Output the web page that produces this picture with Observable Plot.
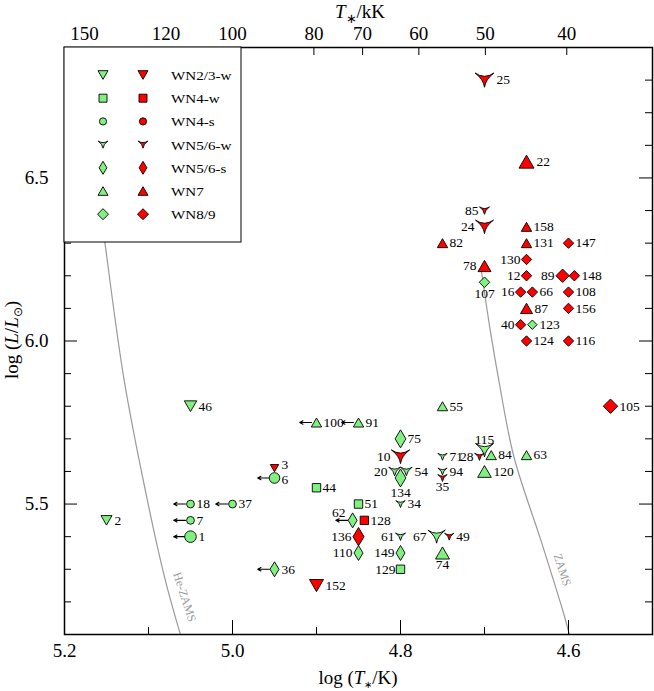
<!DOCTYPE html>
<html><head><meta charset="utf-8">
<script src="https://cdn.jsdelivr.net/npm/d3@7"></script>
<script src="https://cdn.jsdelivr.net/npm/@observablehq/plot@0.6"></script>
<style>body{margin:0;background:#fff} svg{display:block}</style>
</head><body><div id="chart"></div>
<script>
// ---------------- data ----------------
const wr = [25,22,85,24,158, 82,131,147,130,78, 12,89,148,107,16, 66,108,87,156,40,
  123,124,116,105,55, 46,100,91,75,115, 28,84,63,71,10, 3,20,54,94,120,
  6,134,35,44,18, 37,51,34,2,7, 62,128,1,136,61, 67,49,110,149,74, 36,129,152];
const logT = [4.70,4.65,4.70,4.70,4.65, 4.75,4.65,4.60,4.65,4.70, 4.65,4.607,4.593,4.70,4.657,
  4.643,4.60,4.65,4.60,4.657, 4.643,4.65,4.60,4.55,4.75, 5.05,4.90,4.85,4.80,4.70,
  4.706,4.692,4.65,4.75,4.80, 4.95,4.807,4.793,4.75,4.70, 4.95,4.80,4.75,4.90,5.05,
  5.00,4.85,4.80,5.15,5.05, 4.857,4.843,5.05,4.85,4.80, 4.757,4.742,4.85,4.80,4.75, 4.95,4.80,4.90];
const logL = [6.80,6.55,6.40,6.35,6.35, 6.30,6.30,6.30,6.25,6.23, 6.20,6.20,6.20,6.18,6.15,
  6.15,6.15,6.10,6.10,6.05, 6.05,6.00,6.00,5.80,5.80, 5.80,5.75,5.75,5.70,5.665,
  5.645,5.65,5.65,5.645,5.645, 5.61,5.60,5.60,5.60,5.60, 5.58,5.58,5.58,5.55,5.50,
  5.50,5.50,5.50,5.45,5.45, 5.45,5.45,5.40,5.40,5.40, 5.40,5.40,5.35,5.35,5.35, 5.30,5.30,5.25];
const subtype = ["WN5/6-w","WN7","WN5/6-w","WN5/6-w","WN7", "WN7","WN7","WN8/9","WN8/9","WN7",
  "WN8/9","WN8/9","WN8/9","WN8/9","WN8/9", "WN8/9","WN8/9","WN7","WN8/9","WN8/9",
  "WN8/9","WN8/9","WN8/9","WN8/9","WN7", "WN2/3-w","WN7","WN7","WN5/6-s","WN5/6-w",
  "WN5/6-w","WN7","WN7","WN5/6-w","WN5/6-w", "WN2/3-w","WN5/6-w","WN5/6-w","WN5/6-w","WN7",
  "WN4-s","WN5/6-s","WN5/6-w","WN4-w","WN4-s", "WN4-s","WN4-w","WN5/6-w","WN2/3-w","WN4-s",
  "WN5/6-s","WN4-w","WN4-s","WN5/6-s","WN5/6-w", "WN5/6-w","WN5/6-w","WN5/6-s","WN5/6-s","WN7",
  "WN5/6-s","WN4-w","WN2/3-w"];
const hydrogen = ["H","H","H","H","H", "H","H","H","H","H", "H","H","H","noH","H",
  "H","H","H","H","H", "noH","H","H","H","noH", "noH","noH","noH","noH","noH",
  "H","noH","noH","noH","H", "H","noH","noH","noH","noH", "noH","noH","H","noH","noH",
  "noH","noH","noH","noH","noH", "noH","H","noH","H","noH", "noH","H","noH","noH","noH",
  "noH","noH","H"];
const tempLimit = [100,91,62,6,18,37,7,1,36];   // T* only a lower limit (arrow)
const legendTypes = ["WN2/3-w","WN4-w","WN4-s","WN5/6-w","WN5/6-s","WN7","WN8/9"];
const kKTicks = [150,120,100,80,70,60,50,40];
const xMajor = [5.0,4.8,4.6], xMinor = [5.1,4.9,4.7];
const xLabels = [5.2,5.0,4.8,4.6];
const yMajor = [5.5,6.0,6.5];
const yMinor = [5.2,5.3,5.4,5.6,5.7,5.8,5.9,6.1,6.2,6.3,6.4,6.6,6.7,6.8];
const heZamsT = [5.157,5.152,5.129,5.098,5.080,5.062];
const heZamsL = [6.40,6.304,5.88,5.471,5.267,5.10];
const zamsT = [4.704,4.693,4.683,4.665,4.633,4.607,4.599];
const zamsL = [6.22,6.03,5.88,5.645,5.39,5.175,5.10];
const curveLabels = ["He-ZAMS","ZAMS"];
const curveLabelT = [5.057,4.6075];
const curveLabelL = [5.215,5.298];

// ---------------- styles ----------------
const colours = {noH: "#80f080", H: "#ff0000"};
const baseR = {"WN2/3-w":5.5,"WN4-w":4.2,"WN4-s":3.9,"WN5/6-w":4.6,"WN5/6-s":7.5,"WN7":5.2,"WN8/9":5.2};
const markerR = {25:9.5,24:9,10:9.2,115:9,67:8.7,20:5.8,54:5.8,61:5,85:5,28:4.8,22:7.5,74:7,120:6.8,
  78:6.5,87:6,75:9,134:9,136:9.2,1:5.8,6:5.3,46:6.2,152:7,3:4.2,89:6.7,105:7.2,107:5.3,123:4.7};
const labelLeft = [85,24,78,130,12,89,16,40,28,10,20,67,61,149,129,136,110];
const labelBelow = [107,134,35,74];
const labelAbove = [115];
const labelAboveLeft = [62];
const labelRaised = [3];
const labelLowered = [6];

const rad = s => Math.sqrt(s / Math.PI);
function poly(c, pts){ c.moveTo(pts[0][0], pts[0][1]); for (let k = 1; k < pts.length; k++) c.lineTo(pts[k][0], pts[k][1]); c.closePath(); }
const SYM = {
  "WN2/3-w": {draw(c,s){const r=rad(s); poly(c,[[-r,-0.866*r],[r,-0.866*r],[0,0.866*r]]);}},
  "WN4-w": {draw(c,s){const r=rad(s); poly(c,[[-r,-r],[r,-r],[r,r],[-r,r]]);}},
  "WN4-s": {draw(c,s){const r=rad(s); c.moveTo(r,0); c.arc(0,0,r,0,2*Math.PI); c.closePath();}},
  "WN5/6-w": {draw(c,s){const r=rad(s); c.moveTo(-r,-0.75*r); c.quadraticCurveTo(0,-0.05*r,r,-0.75*r);
      c.quadraticCurveTo(0.12*r,-0.1*r,0,0.75*r); c.quadraticCurveTo(-0.12*r,-0.1*r,-r,-0.75*r); c.closePath();}},
  "WN5/6-s": {draw(c,s){const r=rad(s); poly(c,[[0,-r],[0.6*r,0],[0,r],[-0.6*r,0]]);}},
  "WN7": {draw(c,s){const r=rad(s); poly(c,[[-r,0.866*r],[r,0.866*r],[0,-0.866*r]]);}},
  "WN8/9": {draw(c,s){const r=rad(s); poly(c,[[0,-r],[r,0],[0,r],[-r,0]]);}}
};

const stars = wr.map((id, i) => ({id, logT: logT[i], logL: logL[i], type: subtype[i], h: hydrogen[i],
  r: markerR[id] ?? baseR[subtype[i]]}));
const limits = stars.filter(d => tempLimit.includes(d.id));

const hwOf = d => d.type === "WN5/6-s" ? 0.6 * d.r : d.r;
const hhOf = d => (d.type === "WN2/3-w" || d.type === "WN7") ? 0.866 * d.r : d.type === "WN5/6-w" ? 0.75 * d.r : d.r;
function labelOffset(d){
  const hw = Math.round(hwOf(d)), hh = Math.round(hhOf(d));
  if (labelLeft.includes(d.id)) return [-(hw + 1), 0, "end"];
  if (labelBelow.includes(d.id)) return [0, hh + 6, "middle"];
  if (labelAbove.includes(d.id)) return [0, -(hh + 4), "middle"];
  if (labelAboveLeft.includes(d.id)) return [-(hw + 2), -8, "end"];
  if (labelRaised.includes(d.id)) return [hw + 3, -4, "start"];
  if (labelLowered.includes(d.id)) return [hw + 2, 2, "start"];
  return [hw + 2, 0, "start"];
}
const labelGroups = d3.groups(stars, d => labelOffset(d).join("|"));

const W = 654, H = 691, ML = 64, MR = 2, MT = 47, MB = 57;
const FW = W - ML - MR, FH = H - MT - MB;

const plot = Plot.plot({
  width: W, height: H, marginLeft: ML, marginRight: MR, marginTop: MT, marginBottom: MB,
  x: {domain: [5.2, 4.5]},
  y: {domain: [5.1, 6.9]},
  r: {type: "identity"},
  color: {domain: ["noH","H"], range: [colours.noH, colours.H]},
  style: {fontFamily: "'Liberation Serif', 'Times New Roman', serif", fontSize: "19px", background: "white", color: "black"},
  marks: [
    Plot.line(heZamsT.map((t,i)=>({t, l: heZamsL[i]})), {x: "t", y: "l", curve: "catmull-rom", stroke: "#9a9a9a", strokeWidth: 1.2}),
    Plot.line(zamsT.map((t,i)=>({t, l: zamsL[i]})), {x: "t", y: "l", curve: "catmull-rom", stroke: "#9a9a9a", strokeWidth: 1.2}),
    Plot.text(curveLabels, {x: (d,i)=>curveLabelT[i], y: (d,i)=>curveLabelL[i], text: d=>d, rotate: 72,
      fill: "#9a9a9a", fontSize: 12, textAnchor: "middle", lineAnchor: "middle"}),
    Plot.arrow(limits, {x1: "logT", y1: "logL", x2: d => d.logT + 0.02, y2: "logL", insetStart: 5,
      headLength: 5, headAngle: 55, stroke: "black", strokeWidth: 1.1}),
    ...legendTypes.map(t => Plot.dot(stars.filter(d => d.type === t), {
      x: "logT", y: "logL", r: "r", fill: "h", symbol: SYM[t], stroke: "black", strokeWidth: 0.9})),
    ...labelGroups.map(([key, arr]) => {
      const [dx, dy, anchor] = key.split("|");
      return Plot.text(arr, {x: "logT", y: "logL", text: d => String(d.id), dx: +dx, dy: +dy,
        textAnchor: anchor, lineAnchor: "middle", fontSize: 13.5, fill: "black", ariaLabel: "star-label"});
    }),
    // inward ticks
    Plot.tickX(xMajor, {insetTop: FH - 14, stroke: "black"}),
    Plot.tickX(xMinor, {insetTop: FH - 7, stroke: "black"}),
    Plot.tickX(kKTicks.map(v => Math.log10(v * 1000)), {insetBottom: FH - 8, stroke: "black"}),
    Plot.tickY(yMajor, {insetRight: FW - 13, stroke: "black"}),
    Plot.tickY(yMinor, {insetRight: FW - 7, stroke: "black"}),
    Plot.tickY(yMajor, {insetLeft: FW - 13, stroke: "black"}),
    Plot.tickY(yMinor, {insetLeft: FW - 7, stroke: "black"}),
    Plot.axisX({anchor: "bottom", ticks: xLabels, tickFormat: d3.format(".1f"), tickSize: 0, tickPadding: 9, label: null, fontSize: 19}),
    Plot.axisX({anchor: "top", ticks: kKTicks.map(v => Math.log10(v * 1000)), tickFormat: d => String(Math.round(10 ** d / 1000)),
      tickSize: 0, tickPadding: 8, label: null, fontSize: 19}),
    Plot.axisY({anchor: "left", ticks: yMajor, tickFormat: d3.format(".1f"), tickSize: 0, tickPadding: 16, label: null, fontSize: 19}),
    Plot.frame({stroke: "black", strokeWidth: 1.5})
  ]
});

document.getElementById("chart").appendChild(plot);
const svg = d3.select(plot.tagName.toLowerCase() === "svg" ? plot : plot.querySelector("svg"));

// condense star labels horizontally
svg.selectAll('g[aria-label="star-label"] text').each(function(){
  let tr = this.getAttribute("transform");
  if (!tr) { const x = +this.getAttribute("x") || 0, y = +this.getAttribute("y") || 0;
    this.removeAttribute("x"); this.removeAttribute("y"); tr = `translate(${x},${y})`; }
  this.setAttribute("transform", tr + " scale(0.63,1)");
});

// legend
const lg = svg.append("g");
lg.append("rect").attr("x", ML).attr("y", MT).attr("width", 177).attr("height", 195)
  .attr("fill", "white").attr("stroke", "black").attr("stroke-width", 1);
const legendR = {"WN2/3-w":5,"WN4-w":4,"WN4-s":3.6,"WN5/6-w":4.8,"WN5/6-s":6.5,"WN7":5,"WN8/9":5.5};
legendTypes.forEach((t, i) => {
  const y = 75 + i * 23.2;
  const path = d3.symbol().type(SYM[t]).size(Math.PI * legendR[t] ** 2)();
  lg.append("path").attr("d", path).attr("transform", `translate(103,${y})`).attr("fill", colours.noH).attr("stroke", "black").attr("stroke-width", 0.9);
  lg.append("path").attr("d", path).attr("transform", `translate(143,${y})`).attr("fill", colours.H).attr("stroke", "black").attr("stroke-width", 0.9);
  lg.append("text").attr("transform", `translate(171,${y + 5}) scale(1.12,1)`).attr("text-anchor", "start")
    .attr("font-size", 13.5).attr("fill", "black").text(t);
});

// axis titles
function rich(g, parts){
  const t = g.append("text").attr("font-size", 19).attr("fill", "black").attr("text-anchor", "middle");
  parts.forEach(p => {
    const s = t.append("tspan").text(p.t);
    if (p.i) s.attr("font-style", "italic");
    if (p.dy) s.attr("dy", p.dy);
    if (p.fs) s.attr("font-size", p.fs);
  });
  return t;
}
rich(svg.append("g").attr("transform", "translate(360,18)"),
  [{t: "T", i: true}, {t: "∗", dy: 5, fs: 13}, {t: "/kK", dy: -5}]);
rich(svg.append("g").attr("transform", "translate(358,684)"),
  [{t: "log ("}, {t: "T", i: true}, {t: "∗", dy: 4, fs: 10}, {t: "/K)", dy: -4}]);
rich(svg.append("g").attr("transform", "translate(18,340) rotate(-90)"),
  [{t: "log ("}, {t: "L", i: true}, {t: "/"}, {t: "L", i: true}, {t: "⊙", dy: 4, fs: 12}, {t: ")", dy: -4}]);
</script></body></html>
